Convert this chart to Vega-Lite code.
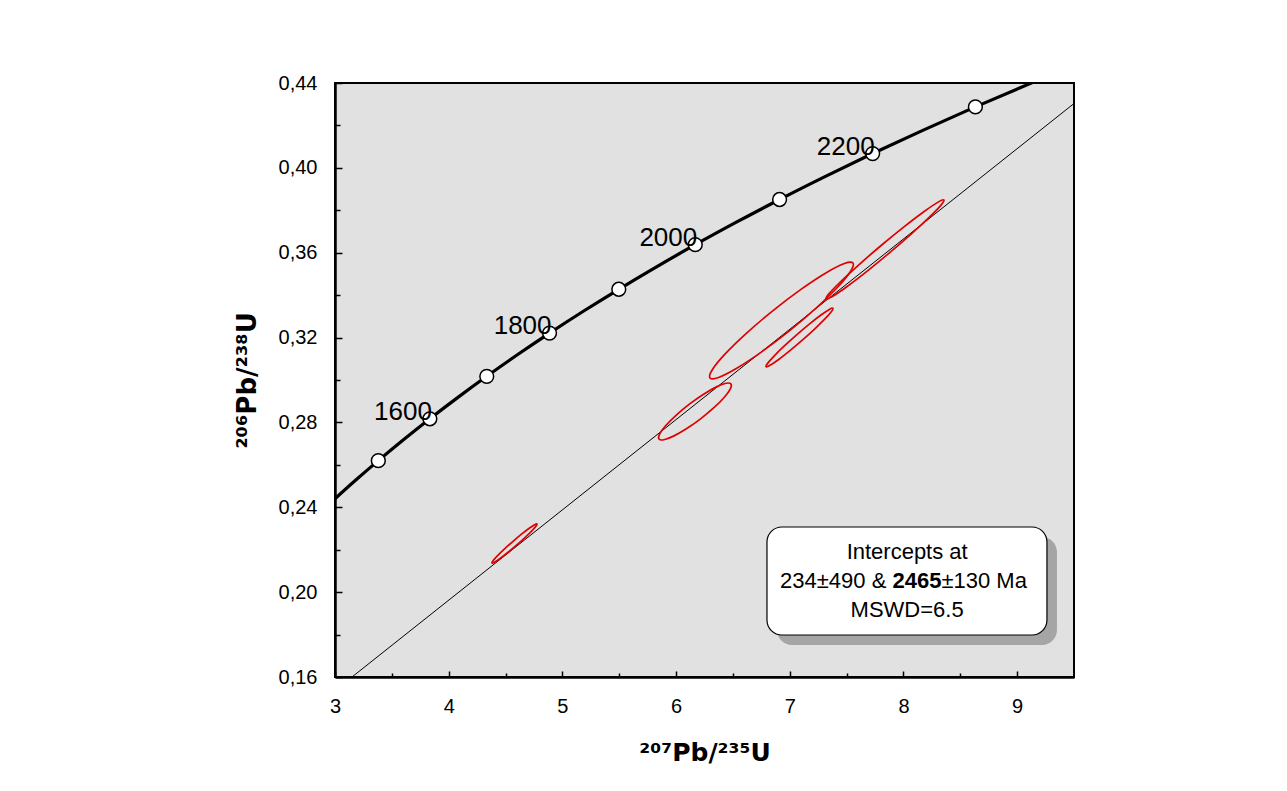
{
  "$schema": "https://vega.github.io/schema/vega-lite/v6.json",
  "width": 739,
  "height": 594,
  "autosize": {"type": "none"},
  "padding": {"left": 335, "top": 83, "right": 213, "bottom": 114},
  "background": "white",
  "config": {
    "view": {"fill": "#e1e1e1", "stroke": "#000000", "strokeWidth": 2},
    "axis": {
      "domainColor": "#000000",
      "domainWidth": 2.5,
      "tickColor": "#000000",
      "tickWidth": 1.5,
      "labelFont": "Liberation Sans",
      "labelFontSize": 20,
      "labelColor": "#000000",
      "titleFont": "DejaVu Sans",
      "titleFontWeight": "bold",
      "titleColor": "#000000",
      "grid": false
    },
    "text": {"font": "Liberation Sans", "color": "#000000"}
  },
  "datasets": {
    "curve": [
      {"t": 1400, "x": 2.9701, "y": 0.24257},
      {"t": 1450, "x": 3.1705, "y": 0.25224},
      {"t": 1500, "x": 3.3810, "y": 0.26199},
      {"t": 1550, "x": 3.6021, "y": 0.27181},
      {"t": 1600, "x": 3.8344, "y": 0.28172},
      {"t": 1650, "x": 4.0785, "y": 0.29170},
      {"t": 1700, "x": 4.3348, "y": 0.30175},
      {"t": 1750, "x": 4.6041, "y": 0.31189},
      {"t": 1800, "x": 4.8870, "y": 0.32210},
      {"t": 1850, "x": 5.1841, "y": 0.33240},
      {"t": 1900, "x": 5.4962, "y": 0.34277},
      {"t": 1950, "x": 5.8242, "y": 0.35323},
      {"t": 2000, "x": 6.1686, "y": 0.36377},
      {"t": 2050, "x": 6.5304, "y": 0.37438},
      {"t": 2100, "x": 6.9104, "y": 0.38509},
      {"t": 2150, "x": 7.3097, "y": 0.39587},
      {"t": 2200, "x": 7.7291, "y": 0.40674},
      {"t": 2250, "x": 8.1698, "y": 0.41769},
      {"t": 2300, "x": 8.6327, "y": 0.42873},
      {"t": 2350, "x": 9.1189, "y": 0.43986},
      {"t": 2360, "x": 9.2190, "y": 0.44209}
    ],
    "ages": [
      {"t": 1500, "x": 3.3810, "y": 0.26199, "label": ""},
      {"t": 1600, "x": 3.8344, "y": 0.28172, "label": "1600"},
      {"t": 1700, "x": 4.3348, "y": 0.30175, "label": ""},
      {"t": 1800, "x": 4.8870, "y": 0.32210, "label": "1800"},
      {"t": 1900, "x": 5.4962, "y": 0.34277, "label": ""},
      {"t": 2000, "x": 6.1686, "y": 0.36377, "label": "2000"},
      {"t": 2100, "x": 6.9104, "y": 0.38509, "label": ""},
      {"t": 2200, "x": 7.7291, "y": 0.40674, "label": "2200"},
      {"t": 2300, "x": 8.6327, "y": 0.42873, "label": ""}
    ],
    "discordia": [
      {"x": 3.1494, "y": 0.16},
      {"x": 9.5, "y": 0.43033}
    ],
    "ellipses": [
      {"e": 1, "k": 0, "x": 4.7768, "y": 0.23213},
      {"e": 1, "k": 1, "x": 4.7560, "y": 0.23178},
      {"e": 1, "k": 2, "x": 4.7082, "y": 0.23009},
      {"e": 1, "k": 3, "x": 4.6407, "y": 0.22731},
      {"e": 1, "k": 4, "x": 4.5637, "y": 0.22386},
      {"e": 1, "k": 5, "x": 4.4890, "y": 0.22027},
      {"e": 1, "k": 6, "x": 4.4280, "y": 0.21708},
      {"e": 1, "k": 7, "x": 4.3899, "y": 0.21479},
      {"e": 1, "k": 8, "x": 4.3806, "y": 0.21373},
      {"e": 1, "k": 9, "x": 4.4014, "y": 0.21408},
      {"e": 1, "k": 10, "x": 4.4492, "y": 0.21577},
      {"e": 1, "k": 11, "x": 4.5167, "y": 0.21856},
      {"e": 1, "k": 12, "x": 4.5937, "y": 0.22200},
      {"e": 1, "k": 13, "x": 4.6684, "y": 0.22559},
      {"e": 1, "k": 14, "x": 4.7294, "y": 0.22878},
      {"e": 1, "k": 15, "x": 4.7675, "y": 0.23107},
      {"e": 2, "k": 0, "x": 6.4827, "y": 0.29812},
      {"e": 2, "k": 1, "x": 6.4398, "y": 0.29845},
      {"e": 2, "k": 2, "x": 6.3553, "y": 0.29676},
      {"e": 2, "k": 3, "x": 6.2419, "y": 0.29330},
      {"e": 2, "k": 4, "x": 6.1171, "y": 0.28860},
      {"e": 2, "k": 5, "x": 5.9997, "y": 0.28337},
      {"e": 2, "k": 6, "x": 5.9077, "y": 0.27842},
      {"e": 2, "k": 7, "x": 5.8550, "y": 0.27449},
      {"e": 2, "k": 8, "x": 5.8497, "y": 0.27218},
      {"e": 2, "k": 9, "x": 5.8926, "y": 0.27185},
      {"e": 2, "k": 10, "x": 5.9772, "y": 0.27354},
      {"e": 2, "k": 11, "x": 6.0905, "y": 0.27700},
      {"e": 2, "k": 12, "x": 6.2153, "y": 0.28170},
      {"e": 2, "k": 13, "x": 6.3327, "y": 0.28693},
      {"e": 2, "k": 14, "x": 6.4248, "y": 0.29189},
      {"e": 2, "k": 15, "x": 6.4774, "y": 0.29582},
      {"e": 3, "k": 0, "x": 7.5555, "y": 0.35514},
      {"e": 3, "k": 1, "x": 7.4803, "y": 0.35490},
      {"e": 3, "k": 2, "x": 7.3208, "y": 0.35058},
      {"e": 3, "k": 3, "x": 7.1013, "y": 0.34283},
      {"e": 3, "k": 4, "x": 6.8554, "y": 0.33283},
      {"e": 3, "k": 5, "x": 6.6203, "y": 0.32210},
      {"e": 3, "k": 6, "x": 6.4319, "y": 0.31228},
      {"e": 3, "k": 7, "x": 6.3189, "y": 0.30485},
      {"e": 3, "k": 8, "x": 6.2985, "y": 0.30097},
      {"e": 3, "k": 9, "x": 6.3737, "y": 0.30120},
      {"e": 3, "k": 10, "x": 6.5332, "y": 0.30552},
      {"e": 3, "k": 11, "x": 6.7527, "y": 0.31327},
      {"e": 3, "k": 12, "x": 6.9986, "y": 0.32327},
      {"e": 3, "k": 13, "x": 7.2337, "y": 0.33400},
      {"e": 3, "k": 14, "x": 7.4221, "y": 0.34383},
      {"e": 3, "k": 15, "x": 7.5351, "y": 0.35125},
      {"e": 4, "k": 0, "x": 7.3793, "y": 0.33379},
      {"e": 4, "k": 1, "x": 7.3483, "y": 0.33327},
      {"e": 4, "k": 2, "x": 7.2774, "y": 0.33073},
      {"e": 4, "k": 3, "x": 7.1772, "y": 0.32656},
      {"e": 4, "k": 4, "x": 7.0630, "y": 0.32140},
      {"e": 4, "k": 5, "x": 6.9522, "y": 0.31603},
      {"e": 4, "k": 6, "x": 6.8617, "y": 0.31127},
      {"e": 4, "k": 7, "x": 6.8052, "y": 0.30784},
      {"e": 4, "k": 8, "x": 6.7913, "y": 0.30627},
      {"e": 4, "k": 9, "x": 6.8223, "y": 0.30679},
      {"e": 4, "k": 10, "x": 6.8932, "y": 0.30933},
      {"e": 4, "k": 11, "x": 6.9934, "y": 0.31350},
      {"e": 4, "k": 12, "x": 7.1076, "y": 0.31866},
      {"e": 4, "k": 13, "x": 7.2184, "y": 0.32403},
      {"e": 4, "k": 14, "x": 7.3090, "y": 0.32879},
      {"e": 4, "k": 15, "x": 7.3654, "y": 0.33222},
      {"e": 5, "k": 0, "x": 8.3561, "y": 0.38485},
      {"e": 5, "k": 1, "x": 8.3047, "y": 0.38384},
      {"e": 5, "k": 2, "x": 8.1821, "y": 0.37942},
      {"e": 5, "k": 3, "x": 8.0071, "y": 0.37228},
      {"e": 5, "k": 4, "x": 7.8062, "y": 0.36351},
      {"e": 5, "k": 5, "x": 7.6100, "y": 0.35443},
      {"e": 5, "k": 6, "x": 7.4485, "y": 0.34643},
      {"e": 5, "k": 7, "x": 7.3461, "y": 0.34072},
      {"e": 5, "k": 8, "x": 7.3185, "y": 0.33819},
      {"e": 5, "k": 9, "x": 7.3699, "y": 0.33920},
      {"e": 5, "k": 10, "x": 7.4925, "y": 0.34362},
      {"e": 5, "k": 11, "x": 7.6675, "y": 0.35076},
      {"e": 5, "k": 12, "x": 7.8684, "y": 0.35953},
      {"e": 5, "k": 13, "x": 8.0646, "y": 0.36861},
      {"e": 5, "k": 14, "x": 8.2261, "y": 0.37661},
      {"e": 5, "k": 15, "x": 8.3285, "y": 0.38232}
    ],
    "shadow": [{"x": 6.8875, "x2": 9.3501, "y": 0.22600, "y2": 0.17509}],
    "box": [{"x": 6.7995, "x2": 9.2621, "y": 0.23071, "y2": 0.17980}],
    "boxCenter": [
      {"x": 8.0325, "y": 0.21562, "text": "Intercepts at"},
      {"x": 8.0325, "y": 0.18828, "text": "MSWD=6.5"}
    ],
    "boxRight": [{"x": 7.8496, "y": 0.20195, "text": "234±490 &"}],
    "boxBold": [{"x": 8.1187, "y": 0.20195, "text": "2465"}],
    "boxLeft": [{"x": 8.3342, "y": 0.20195, "text": "±130 Ma"}]
  },
  "layer": [
    {
      "data": {"name": "discordia"},
      "mark": {"type": "line", "color": "#000000", "strokeWidth": 1, "clip": true},
      "encoding": {
        "x": {
          "field": "x", "type": "quantitative",
          "scale": {"domain": [3, 9.5], "nice": false, "zero": false},
          "axis": {
            "title": "²⁰⁷Pb/²³⁵U",
            "titleFontSize": 25,
            "titlePadding": 22,
            "values": [3, 3.5, 4, 4.5, 5, 5.5, 6, 6.5, 7, 7.5, 8, 8.5, 9],
            "labelExpr": "datum.value % 1 === 0 ? format(datum.value, 'd') : ''",
            "tickSize": {"condition": {"test": "datum.value % 1 === 0", "value": -6}, "value": -4},
            "labelPadding": 25,
            "labelFlush": false,
            "labelOverlap": false
          }
        },
        "y": {
          "field": "y", "type": "quantitative",
          "scale": {"domain": [0.16, 0.44], "nice": false, "zero": false},
          "axis": {
            "title": "²⁰⁶Pb/²³⁸U",
            "titleFontSize": 26,
            "titlePadding": 18,
            "values": [0.16, 0.18, 0.2, 0.22, 0.24, 0.26, 0.28, 0.3, 0.32, 0.34, 0.36, 0.38, 0.4, 0.42, 0.44],
            "labelExpr": "round(datum.value * 100) % 4 === 0 ? replace(format(datum.value, '.2f'), '.', ',') : ''",
            "tickSize": {"condition": {"test": "round(datum.value * 100) % 4 === 0", "value": -7}, "value": -5},
            "labelPadding": 25,
            "labelFlush": false,
            "labelOverlap": false
          }
        }
      }
    },
    {
      "data": {"name": "ellipses"},
      "mark": {"type": "line", "color": "#e00000", "strokeWidth": 1.7, "interpolate": "cardinal-closed", "clip": true},
      "encoding": {
        "x": {"field": "x", "type": "quantitative"},
        "y": {"field": "y", "type": "quantitative"},
        "detail": {"field": "e", "type": "nominal"},
        "order": {"field": "k", "type": "quantitative"}
      }
    },
    {
      "data": {"name": "curve"},
      "mark": {"type": "line", "color": "#000000", "strokeWidth": 3.2, "interpolate": "monotone", "clip": true},
      "encoding": {
        "x": {"field": "x", "type": "quantitative"},
        "y": {"field": "y", "type": "quantitative"},
        "order": {"field": "t", "type": "quantitative"}
      }
    },
    {
      "data": {"name": "ages"},
      "mark": {"type": "point", "shape": "circle", "filled": true, "fill": "#ffffff", "stroke": "#000000", "strokeWidth": 1.5, "size": 190, "opacity": 1},
      "encoding": {
        "x": {"field": "x", "type": "quantitative"},
        "y": {"field": "y", "type": "quantitative"}
      }
    },
    {
      "data": {"name": "ages"},
      "mark": {"type": "text", "align": "right", "baseline": "alphabetic", "fontSize": 26, "dx": 2, "dy": 1},
      "encoding": {
        "x": {"field": "x", "type": "quantitative"},
        "y": {"field": "y", "type": "quantitative"},
        "text": {"field": "label"}
      }
    },
    {
      "data": {"name": "shadow"},
      "mark": {"type": "rect", "fill": "#a5a5a5", "cornerRadius": 15},
      "encoding": {
        "x": {"field": "x", "type": "quantitative"},
        "x2": {"field": "x2"},
        "y": {"field": "y", "type": "quantitative"},
        "y2": {"field": "y2"}
      }
    },
    {
      "data": {"name": "box"},
      "mark": {"type": "rect", "fill": "#ffffff", "stroke": "#000000", "strokeWidth": 1.2, "cornerRadius": 15},
      "encoding": {
        "x": {"field": "x", "type": "quantitative"},
        "x2": {"field": "x2"},
        "y": {"field": "y", "type": "quantitative"},
        "y2": {"field": "y2"}
      }
    },
    {
      "data": {"name": "boxCenter"},
      "mark": {"type": "text", "align": "center", "baseline": "alphabetic", "fontSize": 22},
      "encoding": {
        "x": {"field": "x", "type": "quantitative"},
        "y": {"field": "y", "type": "quantitative"},
        "text": {"field": "text"}
      }
    },
    {
      "data": {"name": "boxRight"},
      "mark": {"type": "text", "align": "right", "baseline": "alphabetic", "fontSize": 22},
      "encoding": {
        "x": {"field": "x", "type": "quantitative"},
        "y": {"field": "y", "type": "quantitative"},
        "text": {"field": "text"}
      }
    },
    {
      "data": {"name": "boxBold"},
      "mark": {"type": "text", "align": "center", "baseline": "alphabetic", "fontSize": 22, "fontWeight": "bold"},
      "encoding": {
        "x": {"field": "x", "type": "quantitative"},
        "y": {"field": "y", "type": "quantitative"},
        "text": {"field": "text"}
      }
    },
    {
      "data": {"name": "boxLeft"},
      "mark": {"type": "text", "align": "left", "baseline": "alphabetic", "fontSize": 22},
      "encoding": {
        "x": {"field": "x", "type": "quantitative"},
        "y": {"field": "y", "type": "quantitative"},
        "text": {"field": "text"}
      }
    }
  ]
}
